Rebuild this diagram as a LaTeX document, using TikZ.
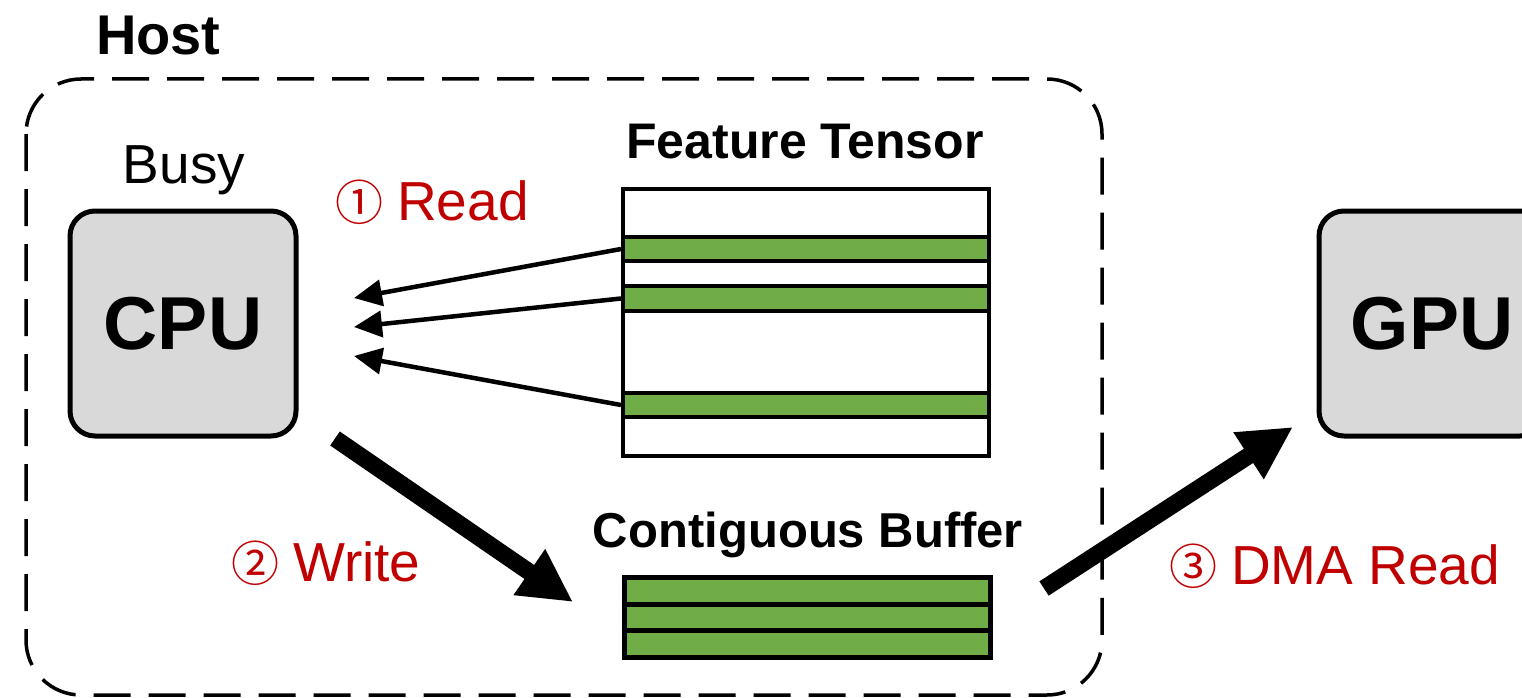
\documentclass[tikz,border=0pt]{standalone}
\usepackage{fontspec}
\setmainfont{Liberation Sans}
\newfontfamily\symfont{Noto Sans CJK SC}
\usetikzlibrary{arrows.meta}
\definecolor{accentred}{HTML}{C00000}
\definecolor{rowgreen}{HTML}{70AD47}
\definecolor{unitgray}{HTML}{D9D9D9}
% circled step number followed by its label
\newcommand{\stepnum}[1]{{\symfont\fontsize{48pt}{50pt}\selectfont #1}\hspace{14pt}}

\begin{document}
\begin{tikzpicture}[x=1pt,y=-1pt,
  unit/.style={draw, line width=5pt, fill=unitgray, rounded corners=25pt,
    minimum width=226pt, minimum height=225pt, inner sep=0pt,
    font=\fontsize{75pt}{80pt}\selectfont\bfseries},
  hostbox/.style={draw, line width=3.5pt, dash pattern=on 37pt off 18pt,
    rounded corners=55pt},
  tensorbox/.style={draw, line width=4pt, fill=white, minimum width=366pt,
    minimum height=267pt, inner sep=0pt},
  featrow/.style={draw, line width=4pt, fill=rowgreen, minimum width=366pt,
    inner sep=0pt},
  bufrow/.style={draw, line width=5pt, fill=rowgreen, minimum width=366pt,
    inner sep=0pt},
  title/.style={inner sep=0pt, font=\fontsize{50pt}{56pt}\selectfont\bfseries},
  steplabel/.style={inner sep=0pt, text=accentred, font=\fontsize{55pt}{60pt}\selectfont},
  readarrow/.style={line width=4.5pt, -{Triangle[length=28pt, width=26pt]}},
  bigarrow/.style={line width=17pt, -{Triangle[length=53pt, width=52pt]}},
]
\useasboundingbox (0,0) rectangle (1522,698);

% host boundary
\draw[hostbox] (26,79) rectangle (1102,695);
\node[inner sep=0pt, anchor=base west, font=\fontsize{56pt}{60pt}\selectfont\bfseries]
  (hostlbl) at (96,55) {Host};

% processors
\node[unit] (cpu) at (183,323.5) {CPU};
\node[inner sep=0pt, anchor=base, font=\fontsize{55pt}{60pt}\selectfont]
  (busy) at (184,183) {Busy};
\node[unit] (gpu) at (1432,323.5) {GPU};

% feature tensor with the gathered rows
\node[title, anchor=base] (fttitle) at (805,158) {Feature Tensor};
\node[tensorbox] (ft) at (806,322.5) {};
\node[featrow, minimum height=24pt] (r1) at (806,249) {};
\node[featrow, minimum height=25pt] (r2) at (806,298.5) {};
\node[featrow, minimum height=24pt] (r3) at (806,405) {};

% contiguous buffer
\node[title, anchor=base, font=\fontsize{49pt}{56pt}\selectfont\bfseries]
  (buftitle) at (808,547) {Contiguous Buffer};
\node[bufrow, minimum height=27pt] (b1) at (807,590.5) {};
\node[bufrow, minimum height=26.5pt] (b2) at (807,617.25) {};
\node[bufrow, minimum height=26.5pt] (b3) at (807,643.75) {};

% arrow end points
\coordinate (t1) at (354,298);
\coordinate (t2) at (354,327);
\coordinate (t3) at (354,356);
\coordinate (w0) at (335,438.5);
\coordinate (w1) at (573,602);
\coordinate (d0) at (1044,588.5);
\coordinate (d1) at (1293,427);

% step 1: CPU reads scattered rows
\draw[readarrow] (r1.west) -- (t1);
\draw[readarrow] (r2.west) -- (t2);
\draw[readarrow] (r3.west) -- (t3);
% step 2: CPU writes into the buffer
\draw[bigarrow] (w0) -- (w1);
% step 3: GPU reads the buffer by DMA
\draw[bigarrow] (d0) -- (d1);

% step labels
\node[steplabel, anchor=base west] (s1) at (335,220) {\stepnum{①}Read};
\node[steplabel, anchor=base west] (s2) at (231,581) {\stepnum{②}Write};
\node[steplabel, anchor=base west] (s3) at (1169,584) {\stepnum{③}DMA Read};
\end{tikzpicture}
\end{document}
